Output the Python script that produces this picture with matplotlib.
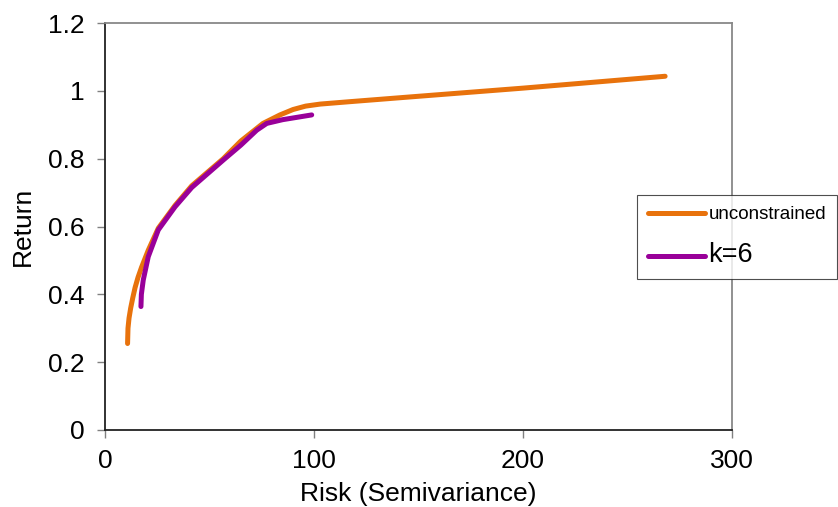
import matplotlib
matplotlib.use("Agg")
import matplotlib.pyplot as plt

# unconstrained frontier
risk_unc = [10.8, 11.0, 11.5, 12.3, 13.3, 14.4, 15.8, 17.5, 20.7, 25.5, 33.5,
            41.5, 56.6, 65, 75.6, 83.7, 90, 96, 103, 117, 150, 200, 268]
ret_unc = [0.255, 0.30, 0.33, 0.36, 0.39, 0.42, 0.45, 0.48, 0.53, 0.595,
           0.662, 0.72, 0.80, 0.852, 0.904, 0.929, 0.945, 0.955, 0.961,
           0.968, 0.984, 1.008, 1.043]

# cardinality-constrained frontier (k=6)
risk_k6 = [17.2, 17.4, 18.3, 20.7, 25.5, 33.5, 41.5, 56.6, 65, 72.6, 77.4,
           85, 98.9]
ret_k6 = [0.364, 0.40, 0.442, 0.511, 0.59, 0.658, 0.715, 0.796, 0.84, 0.884,
          0.904, 0.915, 0.929]

plt.rcParams["font.family"] = ["Liberation Sans", "DejaVu Sans"]

fig = plt.figure(figsize=(8.38, 5.07), dpi=100)
ax = fig.add_axes([0.1253, 0.1519, 0.7482, 0.8027])

ax.plot(risk_unc, ret_unc, color="#E8720C", linewidth=3.6,
        solid_capstyle="round", solid_joinstyle="round", label="unconstrained")
ax.plot(risk_k6, ret_k6, color="#990099", linewidth=3.6,
        solid_capstyle="round", solid_joinstyle="round", label="k=6")

ax.set_xlim(0, 300)
ax.set_ylim(0, 1.2)
ax.set_xticks([0, 100, 200, 300])
ax.set_yticks([0, 0.2, 0.4, 0.6, 0.8, 1.0, 1.2])
ax.set_yticklabels(["0", "0.2", "0.4", "0.6", "0.8", "1", "1.2"])
ax.tick_params(axis="both", labelsize=19, length=6, width=1, color="#808080")
ax.tick_params(axis="y", pad=9)
ax.tick_params(axis="x", pad=8)

for side in ("left", "bottom"):
    ax.spines[side].set_color("#222222")
    ax.spines[side].set_linewidth(1.3)
for side in ("top", "right"):
    ax.spines[side].set_color("#888888")
    ax.spines[side].set_linewidth(1.3)

ax.set_xlabel("Risk (Semivariance)", fontsize=19, labelpad=6)
ax.set_ylabel("Return", fontsize=19, labelpad=9)

leg = ax.legend(loc="upper left", bbox_to_anchor=(637 / 838, 1 - 195 / 507),
                bbox_transform=fig.transFigure, fontsize=13.5,
                frameon=True, fancybox=False, edgecolor="#222222",
                handlelength=3.0, handletextpad=0.2, borderpad=0.6,
                labelspacing=1.0, borderaxespad=0)
leg.get_frame().set_linewidth(0.8)
texts = leg.get_texts()
texts[1].set_fontsize(19.5)

fig.savefig("out.png", dpi=100)
